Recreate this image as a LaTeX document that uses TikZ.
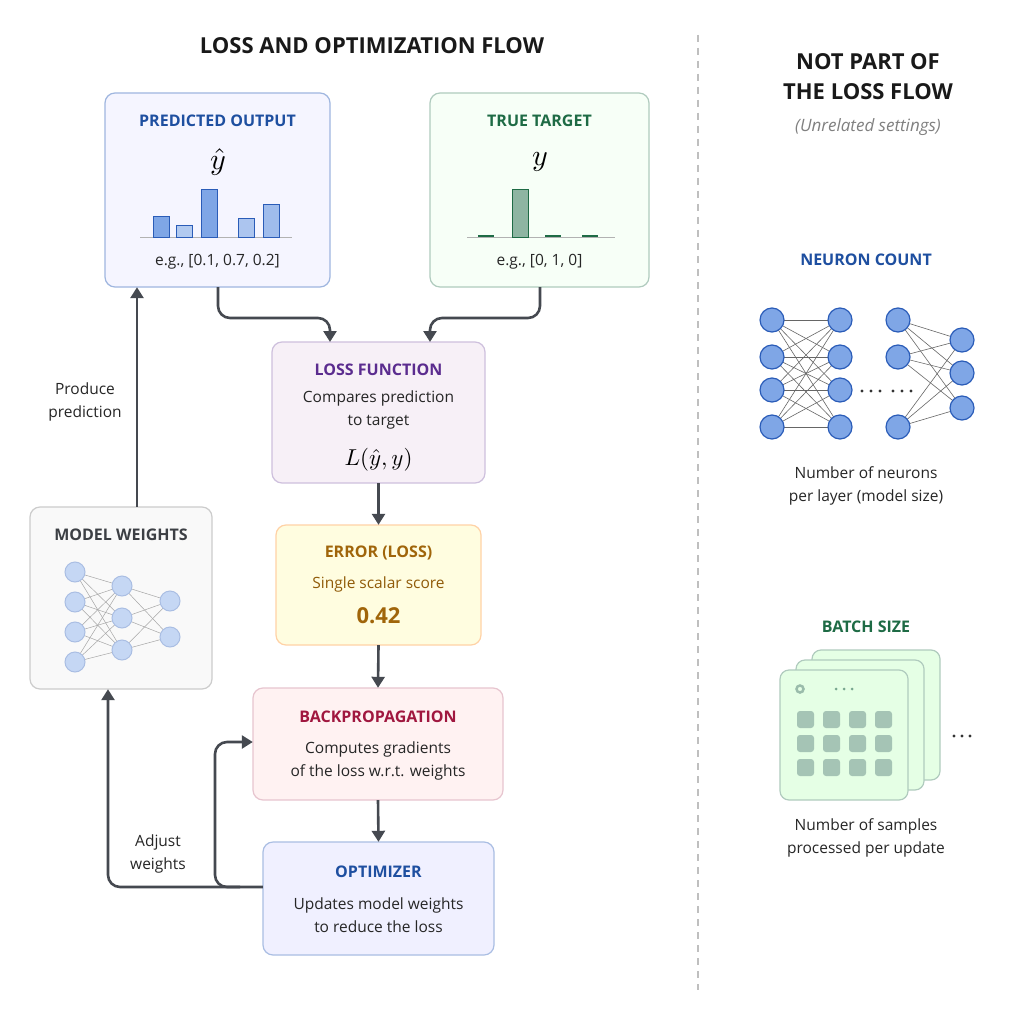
\documentclass[tikz,border=0pt]{standalone}
\usepackage{amsmath}
\usepackage{fontspec}
\setmainfont{Open Sans}
\usetikzlibrary{arrows.meta}
\definecolor{tblue}{HTML}{1E4FA0}
\definecolor{tgreen}{HTML}{1E6B45}
\definecolor{tpurple}{HTML}{5B2C8F}
\definecolor{tgold}{HTML}{A0650A}
\definecolor{tred}{HTML}{A0173F}
\definecolor{tgray}{HTML}{3C3F44}
\definecolor{arr}{HTML}{454950}
\definecolor{nfill}{HTML}{7FA6E6}
\definecolor{nline}{HTML}{2A5CB8}
\tikzset{
 box/.style={draw, rounded corners=10pt, line width=1.2pt},
 ttl/.style={font=\bfseries\fontsize{16}{18}\selectfont},
 txt/.style={font=\fontsize{15.5}{23}\selectfont, align=center, text=black!85},
 flow/.style={draw=arr, line width=2.6pt, rounded corners=12pt, -{Triangle[length=11pt,width=13pt]}},
 nn/.style={circle, draw=nline, fill=nfill, line width=1.2pt, minimum size=24pt, inner sep=0pt},
 sn/.style={circle, draw=nline!40, fill=nfill!45, line width=1pt, minimum size=20pt, inner sep=0pt},
 bigmath/.style={scale=#1, transform shape, inner sep=0pt},
}
\begin{document}
\begin{tikzpicture}[x=1pt,y=-1pt]
\useasboundingbox (0,0) rectangle (1024,1024);
\fill[white] (0,0) rectangle (1024,1024);
\node[font=\bfseries\fontsize{22}{24}\selectfont, text=black!90] (title) at (372,46) {LOSS AND OPTIMIZATION FLOW};
\draw[gray!50, line width=1.5pt, dash pattern=on 7pt off 6pt] (698,35) -- (698,990);
% boxes
\draw[box, draw=nline!45, fill=blue!4] (105,93) rectangle (330,287);
\node (pred) at (217.5,190) [minimum width=225pt, minimum height=194pt] {};
\node[ttl, text=tblue] (predt) at (217.5,121) {PREDICTED OUTPUT};
\node[bigmath=3] (yh) at (218,162) {$\hat{y}$};
\draw[gray!60, line width=1pt] (140,237) -- (292,237);
\foreach \a/\t/\o in {153/217/100,176/226/60,201/190/100,238/219/65,263/205/75}
  \draw[nline, fill=nfill!\o!white, line width=1pt] (\a,237) rectangle (\a+16,\t);
\node[txt] (pe) at (217.5,262) {e.g., [0.1, 0.7, 0.2]};

\draw[box, draw=tgreen!35, fill=green!3] (430,93) rectangle (649,287);
\node (true) at (539.5,190) [minimum width=219pt, minimum height=194pt] {};
\node[ttl, text=tgreen] (truet) at (539.5,121) {TRUE TARGET};
\node[bigmath=3] (yy) at (540,162) {$y$};
\draw[gray!60, line width=1pt] (467,237) -- (615,237);
\draw[tgreen, fill=tgreen!50, line width=1pt] (512,237) rectangle (528,190);
\foreach \a in {478,545,582} \draw[tgreen, line width=2pt] (\a,236) -- (\a+16,236);
\node[txt] (te) at (539.5,262) {e.g., [0, 1, 0]};

\draw[box, draw=tpurple!30, fill=violet!6] (272,342) rectangle (485,483);
\node (loss) at (378.5,412.5) [minimum width=213pt, minimum height=141pt] {};
\node[ttl, text=tpurple] at (378.5,370) {LOSS FUNCTION};
\node[txt] at (378.5,410) {Compares prediction\\to target};
\node[bigmath=2.3] at (378.5,460) {$L(\hat{y},y)$};

\draw[box, draw=orange!35, fill=yellow!12] (276,525) rectangle (481,645);
\node (err) at (378.5,585) [minimum width=205pt, minimum height=120pt] {};
\node[ttl, text=tgold] at (378.5,553) {ERROR (LOSS)};
\node[txt, text=tgold!90!black] at (378.5,584) {Single scalar score};
\node[font=\bfseries\fontsize{22}{24}\selectfont, text=tgold] at (378.5,616) {0.42};

\draw[box, draw=tred!25, fill=red!5] (253,688) rectangle (503,800);
\node (bp) at (378,744) [minimum width=250pt, minimum height=112pt] {};
\node[ttl, text=tred] at (378,717) {BACKPROPAGATION};
\node[txt] at (378,761) {Computes gradients\\of the loss w.r.t. weights};

\draw[box, draw=nline!40, fill=blue!6] (263,842) rectangle (494,955);
\node (opt) at (378.5,898.5) [minimum width=231pt, minimum height=113pt] {};
\node[ttl, text=tblue] at (378.5,872) {OPTIMIZER};
\node[txt] at (378.5,915) {Updates model weights\\to reduce the loss};

\draw[box, draw=gray!40, fill=gray!5] (30,507) rectangle (212,689);
\node (mw) at (121,598) [minimum width=182pt, minimum height=182pt] {};
\node[ttl, text=tgray] at (121,535) {MODEL WEIGHTS};
\foreach \i/\y in {1/572,2/602,3/632,4/662} \coordinate (a\i) at (75,\y);
\foreach \i/\y in {1/586,2/618,3/650} \coordinate (b\i) at (122,\y);
\foreach \i/\y in {1/601,2/637} \coordinate (c\i) at (170,\y);
\foreach \i in {1,...,4} \foreach \j in {1,2,3} \draw[gray!70, line width=0.5pt] (a\i) -- (b\j);
\foreach \i in {1,2,3} \foreach \j in {1,2} \draw[gray!70, line width=0.5pt] (b\i) -- (c\j);
\foreach \n in {a1,a2,a3,a4,b1,b2,b3,c1,c2} \node[sn] at (\n) {};

% flows
\draw[flow] (218,287) -- (218,318) -- (330,318) -- (330,342);
\draw[flow] (540,287) -- (540,318) -- (430,318) -- (430,342);
\draw[flow] (loss.south) -- (err.north);
\draw[flow] (err.south) -- (bp.north);
\draw[flow] (bp.south) -- (opt.north);
\draw[flow] (opt.west |- 0,887) -- (108,887) -- (mw.south -| 108,0);
\draw[flow] (240,887) -- (215,887) -- (215,742) -- (bp.west |- 0,742);
\draw[flow] (mw.north -| 137,0) -- (pred.south -| 137,0);
\node[txt] (lp) at (85,402) {Produce\\prediction};
\node[txt] (la) at (158,854) {Adjust\\weights};

% right side
\node[font=\bfseries\fontsize{22}{30}\selectfont, align=center, text=black!90] (np) at (868,77) {NOT PART OF\\THE LOSS FLOW};
\node[font=\itshape\fontsize{17}{20}\selectfont, text=gray] (un) at (868,127) {(Unrelated settings)};
\node[ttl, text=tblue] (nc) at (866,260) {NEURON COUNT};
\foreach \i/\y in {1/320,2/357,3/390,4/427} {\coordinate (p\i) at (772,\y); \coordinate (q\i) at (840,\y);}
\foreach \i/\y in {1/320,2/357,3/427} \coordinate (r\i) at (898,\y);
\foreach \i/\y in {1/340,2/373,3/408} \coordinate (s\i) at (962,\y);
\foreach \i in {1,...,4} \foreach \j in {1,...,4} \draw[gray!80!black, line width=0.6pt] (p\i) -- (q\j);
\foreach \i in {1,2,3} \foreach \j in {1,2,3} \draw[gray!80!black, line width=0.6pt] (r\i) -- (s\j);
\foreach \n in {p1,p2,p3,p4,q1,q2,q3,q4,r1,r2,r3,s1,s2,s3} \node[nn] at (\n) {};
\foreach \x in {862,871,880,893,902,911} \fill[black!80] (\x,391) circle (1.6pt);
\node[txt] (ncl) at (866,486) {Number of neurons\\per layer (model size)};

\node[ttl, text=tgreen] (bs) at (866,627) {BATCH SIZE};
\foreach \d in {2,1,0}
  \draw[tgreen!35, fill=green!10!white, line width=1.2pt, rounded corners=9pt] (780+16*\d,670-10*\d) rectangle (908+16*\d,800-10*\d);
\draw[tgreen!45, line width=2.5pt] (800,689) circle (3.5pt);
\foreach \x in {836,844,852} \fill[tgreen!60] (\x,689) circle (1.5pt);
\foreach \c in {0,1,2,3} \foreach \r in {0,1,2}
  \fill[tgreen!40, rounded corners=3pt] (797+26*\c,711+24*\r) rectangle ++(17,17);
\foreach \x in {954,962,970} \fill[black!80] (\x,736) circle (1.6pt);
\node[txt] (bsl) at (866,838) {Number of samples\\processed per update};
\end{tikzpicture}
\end{document}
